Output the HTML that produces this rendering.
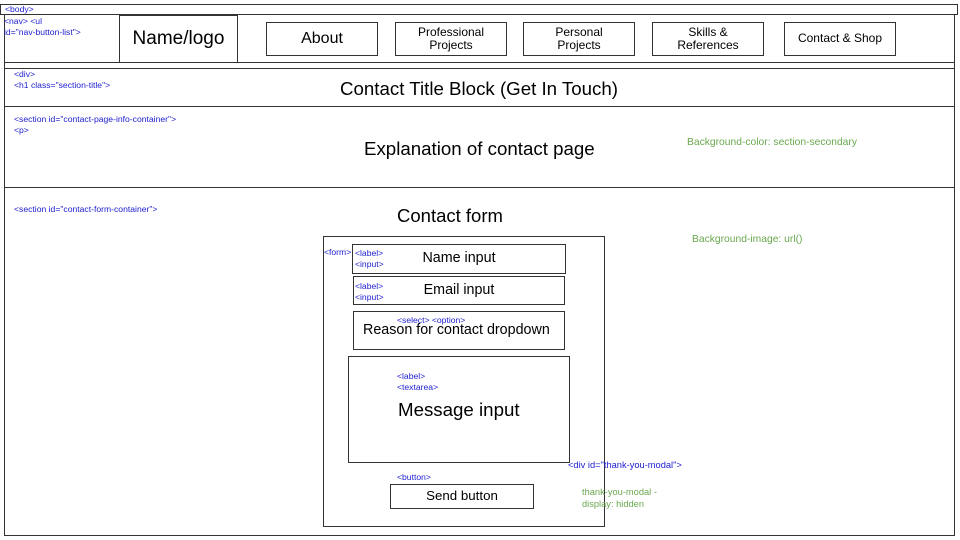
<!DOCTYPE html>
<html><head><meta charset="utf-8"><style>
body{margin:0;width:960px;height:540px;background:#fff;position:relative;overflow:hidden;font-family:"Liberation Sans",Arial,sans-serif;}
.b{position:absolute;border:1px solid #333;box-sizing:border-box;}
.t{position:absolute;color:#000;white-space:nowrap;}
.c{position:absolute;display:flex;align-items:center;justify-content:center;text-align:center;line-height:1.1;}
.blue{position:absolute;color:#2020d0;font-size:8.6px;line-height:11px;white-space:nowrap;}
.green{position:absolute;color:#6aa84f;font-size:10.3px;line-height:12px;white-space:nowrap;}
.h{position:absolute;height:1px;background:#333;}
</style></head><body>
<div class="b" style="left:0;top:4px;width:958px;height:11px;"></div>
<div class="b" style="left:4px;top:14px;width:951px;height:522px;"></div>
<div class="h" style="left:4px;top:62px;width:951px;"></div>
<div class="h" style="left:4px;top:68px;width:951px;"></div>
<div class="h" style="left:4px;top:106px;width:951px;"></div>
<div class="h" style="left:4px;top:187px;width:951px;"></div>

<div class="blue" style="left:5px;top:4px;">&lt;body&gt;</div>
<div class="blue" style="left:4px;top:16px;">&lt;nav&gt; &lt;ul<br>id="nav-button-list"&gt;</div>

<div class="b c" style="left:119px;top:15px;width:119px;height:48px;font-size:19px;">Name/logo</div>
<div class="b c" style="left:266px;top:22px;width:112px;height:34px;font-size:16px;">About</div>
<div class="b c" style="left:395px;top:22px;width:112px;height:34px;font-size:12px;">Professional<br>Projects</div>
<div class="b c" style="left:523px;top:22px;width:112px;height:34px;font-size:12px;">Personal<br>Projects</div>
<div class="b c" style="left:652px;top:22px;width:112px;height:34px;font-size:12px;">Skills &amp;<br>References</div>
<div class="b c" style="left:784px;top:22px;width:112px;height:34px;font-size:12px;">Contact &amp; Shop</div>

<div class="blue" style="left:14px;top:69px;">&lt;div&gt;<br>&lt;h1 class="section-title"&gt;</div>
<div class="t" style="left:340px;top:78px;font-size:18.7px;">Contact Title Block (Get In Touch)</div>

<div class="blue" style="left:14px;top:114px;">&lt;section id="contact-page-info-container"&gt;<br>&lt;p&gt;</div>
<div class="t" style="left:364px;top:138px;font-size:18.7px;">Explanation of contact page</div>
<div class="green" style="left:687px;top:137px;">Background-color: section-secondary</div>

<div class="blue" style="left:14px;top:204px;">&lt;section id="contact-form-container"&gt;</div>
<div class="t" style="left:397px;top:205px;font-size:18.5px;">Contact form</div>
<div class="green" style="left:692px;top:234px;">Background-image: url()</div>

<div class="b" style="left:323px;top:236px;width:282px;height:291px;"></div>
<div class="blue" style="left:324px;top:247px;">&lt;form&gt;</div>
<div class="b c" style="left:352px;top:244px;width:214px;height:30px;font-size:14.3px;">Name input</div>
<div class="blue" style="left:355px;top:248px;">&lt;label&gt;<br>&lt;input&gt;</div>
<div class="b c" style="left:353px;top:276px;width:212px;height:29px;font-size:14.3px;">Email input</div>
<div class="blue" style="left:355px;top:281px;">&lt;label&gt;<br>&lt;input&gt;</div>
<div class="b" style="left:353px;top:311px;width:212px;height:39px;"></div>
<div class="blue" style="left:397px;top:315px;">&lt;select&gt; &lt;option&gt;</div>
<div class="t" style="left:363px;top:322px;font-size:14.3px;">Reason for contact dropdown</div>
<div class="b" style="left:348px;top:356px;width:222px;height:107px;"></div>
<div class="blue" style="left:397px;top:371px;">&lt;label&gt;<br>&lt;textarea&gt;</div>
<div class="t" style="left:398px;top:399px;font-size:18.7px;">Message input</div>
<div class="blue" style="left:568px;top:460px;font-size:9.3px;">&lt;div id="thank-you-modal"&gt;</div>
<div class="blue" style="left:397px;top:472px;">&lt;button&gt;</div>
<div class="b c" style="left:390px;top:484px;width:144px;height:25px;font-size:13.3px;">Send button</div>
<div class="green" style="left:582px;top:486px;font-size:9.3px;line-height:12px;">thank-you-modal -<br>display: hidden</div>
</body></html>
